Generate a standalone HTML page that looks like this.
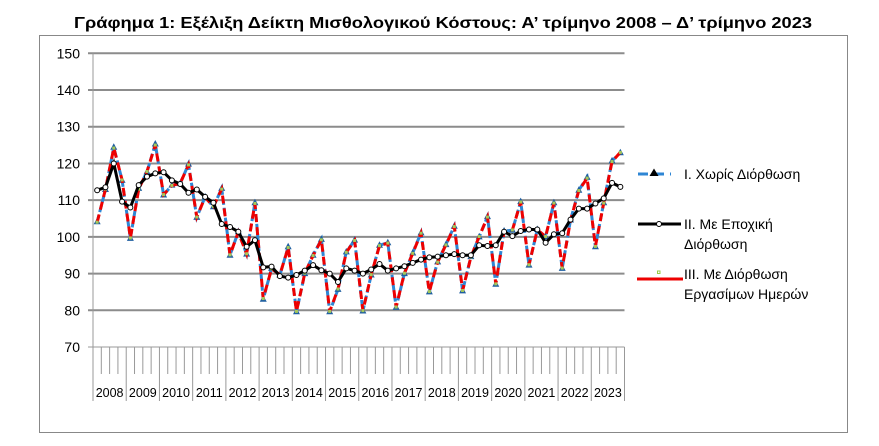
<!DOCTYPE html>
<html><head><meta charset="utf-8"><style>
body{margin:0;background:#fff;}
svg{display:block;font-family:"Liberation Sans","DejaVu Sans",sans-serif;}
</style></head><body>
<svg id="chart" width="879" height="446">
<text x="443" y="28" text-anchor="middle" font-weight="bold" font-size="16" textLength="738" lengthAdjust="spacingAndGlyphs">Γράφημα 1: Εξέλιξη Δείκτη Μισθολογικού Κόστους:  Α’ τρίμηνο 2008 – Δ’ τρίμηνο 2023</text>
<rect x="39.5" y="35.5" width="808" height="397" fill="none" stroke="#888"/>
<g id="grid"></g><g id="xaxis"></g><g id="series"></g>
<g>
 <g>
  <line x1="638" y1="174" x2="671" y2="174" stroke="#2e86d4" stroke-width="3" stroke-dasharray="10,6"/>
  <polygon points="654,168.5 658.5,176 649.5,176" fill="#000"/>
  <text x="684" y="179" font-size="14">I. Χωρίς Διόρθωση</text>
 </g>
 <g>
  <line x1="638" y1="224" x2="681" y2="224" stroke="#000" stroke-width="3"/>
  <circle cx="659" cy="224" r="2.5" fill="#fff" stroke="#000"/>
  <text x="684" y="229" font-size="14">II. Με Εποχική</text>
  <text x="684" y="249" font-size="14">Διόρθωση</text>
 </g>
 <g>
  <line x1="637" y1="279" x2="683" y2="279" stroke="#e00" stroke-width="3"/>
  <rect x="657.5" y="271" width="2.5" height="2.5" fill="none" stroke="#9c4"/>
  <text x="684" y="279" font-size="14">III. Με Διόρθωση</text>
  <text x="684" y="299" font-size="14">Εργασίμων Ημερών</text>
 </g>
</g>
</svg>
<script>
const years=["2008","2009","2010","2011","2012","2013","2014","2015","2016","2017","2018","2019","2020","2021","2022","2023"];
const yTicks=[70,80,90,100,110,120,130,140,150];
const unadjusted=[104.1,112.9,124.4,115.4, 99.6,113.2,117.7,125.3, 111.4,114.1,114.5,119.8, 105.3,110.9,108.2,113.2, 95.0,101.4,95.3,109.3, 83.0,91.4,89.6,97.3, 79.6,90.0,95.0,99.3, 79.6,85.7,95.9,99.1, 79.8,89.6,97.7,98.4, 80.8,90.0,95.6,101.1, 85.0,93.2,97.9,102.9, 85.3,94.6,100.0,105.5, 87.1,101.6,101.8,109.6, 92.3,102.0,100.0,109.3, 91.4,104.6,112.7,116.2, 97.3,109.3,120.7,122.9];
const seasonal=[112.7,113.5,120.0,109.6, 108.0,114.1,116.4,117.3, 117.6,115.4,114.4,112.0, 112.9,110.9,109.3,103.5, 102.7,101.4,97.3,99.1, 91.7,91.9,89.3,88.9, 89.6,90.8,92.3,90.9, 90.0,87.7,91.4,90.8, 90.0,91.1,92.6,90.8, 91.4,92.0,92.9,93.8, 94.4,94.6,95.0,95.3, 95.0,95.0,97.7,97.5, 97.7,101.4,100.2,101.6, 102.0,102.0,98.4,100.7, 101.0,104.7,107.7,107.7, 109.1,110.5,114.7,113.6];
const workday=[104.0,113.0,124.2,115.5, 99.7,113.0,117.8,125.0, 111.5,114.0,114.6,119.6, 105.4,110.8,108.3,113.0, 95.1,101.3,95.4,109.1, 83.2,91.3,89.7,97.1, 79.7,90.1,94.9,99.2, 79.7,85.8,95.8,99.0, 79.9,89.7,97.6,98.3, 80.9,90.1,95.5,101.0, 85.1,93.1,97.8,102.8, 85.4,94.5,100.1,105.4, 87.2,101.5,101.9,109.5, 92.4,101.9,100.1,109.2, 91.5,104.5,112.6,116.0, 97.4,109.2,120.5,123.0];

const NS="http://www.w3.org/2000/svg";
const X0=93,X1=624.5,Y70=347,Y150=53.3;
const qW=(X1-X0)/(years.length*4);
const xq=i=>X0+qW*(i+0.5);
const yv=v=>Y70-(v-70)*(Y70-Y150)/80;
function mk(tag,attrs,parent){const e=document.createElementNS(NS,tag);for(const k in attrs)e.setAttribute(k,attrs[k]);parent.appendChild(e);return e;}
const grid=document.getElementById('grid'),xa=document.getElementById('xaxis'),ser=document.getElementById('series');
yTicks.forEach(t=>{
 const y=yv(t);
 const l=mk('line',{x1:88,x2:X1,y1:y,y2:y,stroke:t===70?'#999':'#8c8c8c','stroke-width':t===70?1:2},grid);
 
 
 const tx=mk('text',{x:80,y:y+5,'text-anchor':'end','font-size':14},grid);
 tx.textContent=t;
 
 
});
const ya=mk('line',{x1:X0,x2:X0,y1:Y150,y2:Y70,stroke:'#999'},grid);


for(let i=0;i<=years.length*4;i++){
 const x=X0+qW*i;
 const major=i%4===0;
 const l=mk('line',{x1:x,x2:x,y1:Y70,y2:major?401:374,stroke:'#999'},xa);
 
 
}
years.forEach((yr,i)=>{
 const t=mk('text',{x:X0+qW*(i*4+2),y:397,'text-anchor':'middle','font-size':12.5},xa);
 t.textContent=yr;
 
 
});
function path(arr){return arr.map((v,i)=>(i?'L':'M')+xq(i).toFixed(1)+','+yv(v).toFixed(1)).join('');}
const pb=mk('path',{d:path(unadjusted),fill:'none',stroke:'#2e86d4','stroke-width':3,'stroke-dasharray':'7,3'},ser);


unadjusted.forEach((v,i)=>{
 const x=xq(i),y=yv(v);
 const m=mk('polygon',{points:`${x},${y-4} ${x+3.5},${y+2.5} ${x-3.5},${y+2.5}`,fill:'#1f5fa0'},ser);
 
 
});
const pr=mk('path',{d:path(workday),fill:'none',stroke:'#e00','stroke-width':3,'stroke-dasharray':'8,5'},ser);


workday.forEach((v,i)=>{
 const m=mk('rect',{x:xq(i)-1.5,y:yv(v)-1.5,width:3,height:3,fill:'#a6c85a'},ser);
 
 
});
const pk=mk('path',{d:path(seasonal),fill:'none',stroke:'#000','stroke-width':3},ser);


seasonal.forEach((v,i)=>{
 const c=mk('circle',{cx:xq(i),cy:yv(v),r:2.5,fill:'#fff',stroke:'#000','stroke-width':1},ser);
 
 
});
</script>
</body></html>
